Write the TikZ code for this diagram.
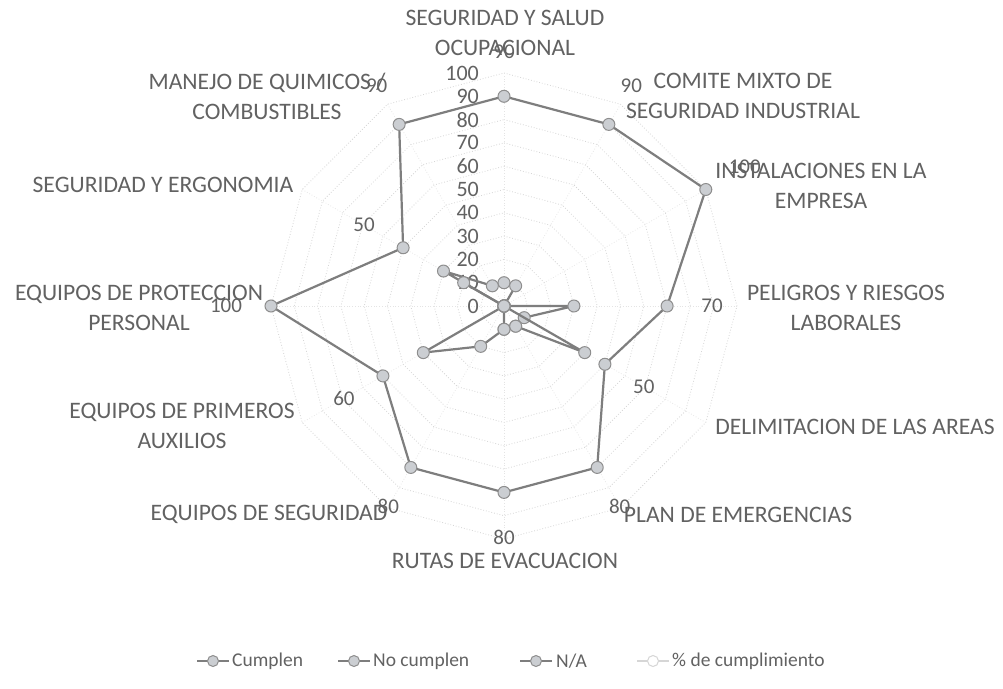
\documentclass[tikz,border=0pt]{standalone}
\usepackage{fontspec}
\setmainfont{Carlito}
\definecolor{linegray}{HTML}{7E7E7E}
\definecolor{mkfill}{HTML}{CBCED2}
\definecolor{mkedge}{HTML}{8E8E8E}
\definecolor{txtgray}{HTML}{626262}
\definecolor{gridgray}{HTML}{D6D6D6}
\definecolor{spokegray}{HTML}{E4E4E4}
\definecolor{pctgray}{HTML}{D6D6D6}
\begin{document}
\begin{tikzpicture}[x=1pt,y=-1pt,
  cat/.style={text=txtgray, font=\fontsize{23.6}{30}\selectfont, align=center, inner sep=0pt},
  tick/.style={text=txtgray, font=\fontsize{22}{26}\selectfont, anchor=east, inner sep=0pt},
  dlab/.style={text=txtgray, font=\fontsize{21}{26}\selectfont, inner sep=0pt},
  leg/.style={text=txtgray, font=\fontsize{19.5}{24}\selectfont, anchor=west, inner sep=0pt},
  ser/.style={draw=linegray, line width=2.2pt, line join=round},
  mk/.style={circle, draw=mkedge, fill=mkfill, line width=1pt, minimum size=12pt, inner sep=0pt},
  pmk/.style={circle, draw=pctgray, fill=white, line width=1pt, minimum size=11pt, inner sep=0pt},
  gridline/.style={draw=gridgray, line width=0.8pt, dotted},
  spoke/.style={draw=spokegray, line width=0.7pt, dotted}]
\useasboundingbox (0,0) rectangle (1003,688);
\fill[white] (0,0) rectangle (1003,688);

\begin{scope}[shift={(504,306)}]
  % grid rings and spokes
  \foreach \r in {1,...,10} {
    \draw[gridline] (-90:{\r*23.3}) \foreach \k in {1,...,11} { -- ({\k*30-90}:{\r*23.3}) } -- cycle;
  }
  \foreach \k in {0,...,11} {
    \draw[spoke] (0,0) -- ({\k*30-90}:233);
  }
  % tick labels
  \foreach \t in {0,10,...,100} {
    \node[tick] (t\t) at (-25,{-\t*2.33}) {\t};
  }
  % series coordinates and data labels
  \foreach \v [count=\i] in {90,90,100,70,50,80,80,80,60,100,50,90} {
    \coordinate (c\i) at ({(\i-1)*30-90}:{\v*2.33});
    \node[dlab] (d\i) at ({(\i-1)*30-90}:{\v*2.33+45}) {\v};
  }
  \foreach \v [count=\i] in {10,10,0,30,10,10,10,20,40,0,30,10} {
    \coordinate (a\i) at ({(\i-1)*30-90}:{\v*2.33});
  }
  \foreach \v [count=\i] in {0,0,0,0,40,10,10,0,0,0,20,0} {
    \coordinate (b\i) at ({(\i-1)*30-90}:{\v*2.33});
  }
  % Cumplen
  \draw[ser] (c1) -- (c2) -- (c3) -- (c4) -- (c5) -- (c6) -- (c7) -- (c8) -- (c9) -- (c10) -- (c11) -- (c12) -- cycle;
  \foreach \i in {1,...,12} { \node[mk] (mc\i) at (c\i) {}; }
  % No cumplen
  \draw[ser] (a1) -- (a2) -- (a3) -- (a4) -- (a5) -- (a6) -- (a7) -- (a8) -- (a9) -- (a10) -- (a11) -- (a12) -- cycle;
  \foreach \i in {1,...,12} { \node[mk] (ma\i) at (a\i) {}; }
  % N/A
  \draw[ser] (b1) -- (b2) -- (b3) -- (b4) -- (b5) -- (b6) -- (b7) -- (b8) -- (b9) -- (b10) -- (b11) -- (b12) -- cycle;
  \foreach \i in {1,...,12} { \node[mk] (mb\i) at (b\i) {}; }
\end{scope}

% category labels
\node[cat] (k1) at (505,33) {SEGURIDAD Y SALUD\\OCUPACIONAL};
\node[cat] (k2) at (743,96) {COMITE MIXTO DE\\SEGURIDAD INDUSTRIAL};
\node[cat] (k3) at (821,186) {INSTALACIONES EN LA\\EMPRESA};
\node[cat] (k4) at (846,308) {PELIGROS Y RIESGOS\\LABORALES};
\node[cat] (k5) at (855,427) {DELIMITACION DE LAS AREAS};
\node[cat] (k6) at (738,515) {PLAN DE EMERGENCIAS};
\node[cat] (k7) at (505,561) {RUTAS DE EVACUACION};
\node[cat] (k8) at (269,514) {EQUIPOS DE SEGURIDAD};
\node[cat] (k9) at (182,426) {EQUIPOS DE PRIMEROS\\AUXILIOS};
\node[cat] (k10) at (139,308) {EQUIPOS DE PROTECCION\\PERSONAL};
\node[cat] (k11) at (163,185) {SEGURIDAD Y ERGONOMIA};
\node[cat] (k12) at (267,96) {MANEJO DE QUIMICOS /\\COMBUSTIBLES};

% legend
\coordinate (l1a) at (197,661); \coordinate (l1b) at (229,661);
\draw[ser, line width=2pt] (l1a) -- (l1b); \node[mk, minimum size=11pt] (l1m) at (213,661) {};
\node[leg] (l1t) at (232,661) {Cumplen};
\coordinate (l2a) at (338,661); \coordinate (l2b) at (370,661);
\draw[ser, line width=2pt] (l2a) -- (l2b); \node[mk, minimum size=11pt] (l2m) at (354,661) {};
\node[leg] (l2t) at (373,661) {No cumplen};
\coordinate (l3a) at (520,661); \coordinate (l3b) at (552,661);
\draw[ser, line width=2pt] (l3a) -- (l3b); \node[mk, minimum size=11pt] (l3m) at (536,661) {};
\node[leg] (l3t) at (556,661) {N/A};
\coordinate (l4a) at (637,661); \coordinate (l4b) at (669,661);
\draw[draw=pctgray, line width=2pt] (l4a) -- (l4b); \node[pmk] (l4m) at (653,661) {};
\node[leg] (l4t) at (672,661) {\% de cumplimiento};
\end{tikzpicture}
\end{document}
